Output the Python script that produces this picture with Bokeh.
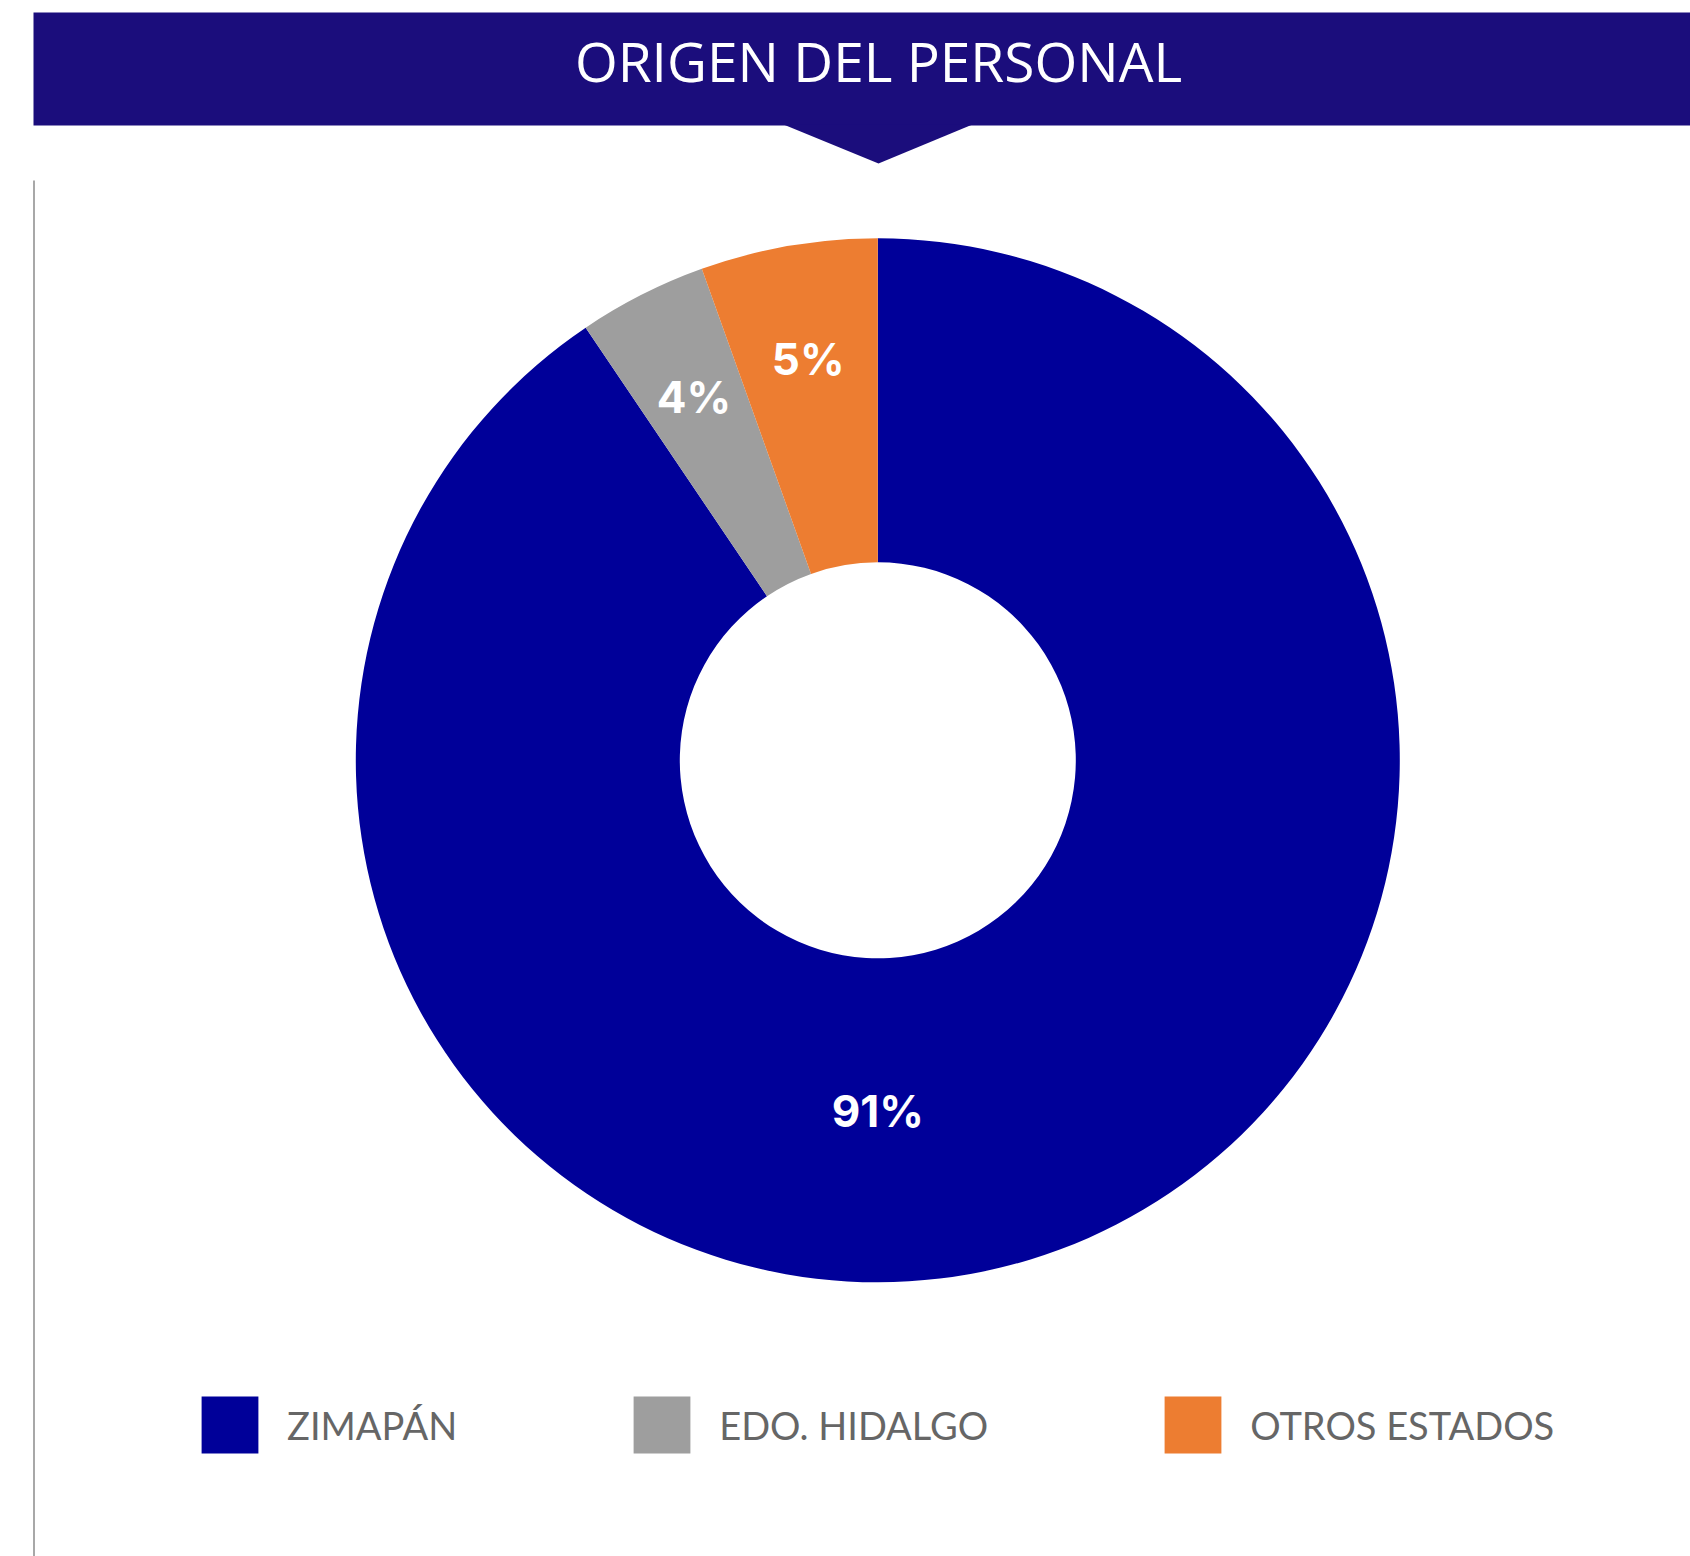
import math
from bokeh.plotting import figure
from bokeh.models import Range1d, ColumnDataSource, Legend, LegendItem
from bokeh.core.properties import value
from bokeh.embed import file_html
from bokeh.resources import INLINE

# ---- data ----
title = "ORIGEN DEL PERSONAL"
categories = ["ZIMAPÁN", "EDO. HIDALGO", "OTROS ESTADOS"]
counts = [182, 8, 11]
colors = ["#000099", "#9E9E9E", "#ED7D31"]

W, H = 1690, 1556


def sx(x):
    return x


def sy(y):
    return H - y


p = figure(width=W, height=H, x_range=Range1d(0, W), y_range=Range1d(0, H),
           output_backend="svg", toolbar_location=None, min_border=0,
           outline_line_color=None, background_fill_color="white", border_fill_color="white")
p.axis.visible = False
p.grid.visible = False

# banner
p.quad(left=sx(33), right=W, top=sy(12), bottom=sy(125), fill_color="#1B0D7C", line_color=None)
p.patch([sx(783), sx(972), sx(878)], [sy(124), sy(124), sy(163)], fill_color="#1B0D7C", line_color=None)
p.text(x=[sx(878)], y=[sy(60)], text=[title], text_color="white", text_font=value("Open Sans"),
       text_font_size="55px", text_align="center", text_baseline="middle")

# left rule
p.segment(x0=[sx(33.5)], y0=[sy(180)], x1=[sx(33.5)], y1=[-10], line_color="#A8A8A8", line_width=2)

# donut
cx, cy = sx(877.3), sy(759.8)
r_in, r_out = 198, 522
total = sum(counts)
fracs = [c / total for c in counts]
starts, ends, mids = [], [], []
a = math.pi / 2
for f in fracs:
    starts.append(a)
    e = a - f * 2 * math.pi
    ends.append(e)
    mids.append((a + e) / 2)
    a = e

src = ColumnDataSource(dict(cat=categories, start=starts, end=ends, color=colors))
wedges = p.annular_wedge(x=cx, y=cy, inner_radius=r_in, outer_radius=r_out,
                         start_angle="start", end_angle="end", direction="clock",
                         fill_color="color", line_color=None, source=src)

labels = [f"{round(f * 100)}%" for f in fracs]
imax = max(range(len(counts)), key=lambda i: counts[i])
lx, ly = [], []
for i, m in enumerate(mids):
    if i == imax:
        ang, rr = -math.pi / 2, 351
    else:
        ang, rr = m, 407
    lx.append(cx + rr * math.cos(ang))
    ly.append(cy + rr * math.sin(ang))
p.text(x=lx, y=ly, text=labels, text_color="white", text_font=value("Inter"),
       text_font_style="bold", text_font_size="44px", text_align="center", text_baseline="middle")

# legend
items = [LegendItem(label=categories[i], renderers=[wedges], index=i) for i in range(len(categories))]
legend = Legend(items=items, orientation="horizontal", location=(194, 96),
                glyph_width=71, glyph_height=71, label_standoff=22, spacing=169,
                padding=0, margin=0, border_line_color=None, background_fill_alpha=0,
                label_text_font="Lato", label_text_font_size="38px", label_text_color="#666666",
                label_height=71)
p.add_layout(legend)

open("out.html", "w").write(file_html(p, INLINE))
